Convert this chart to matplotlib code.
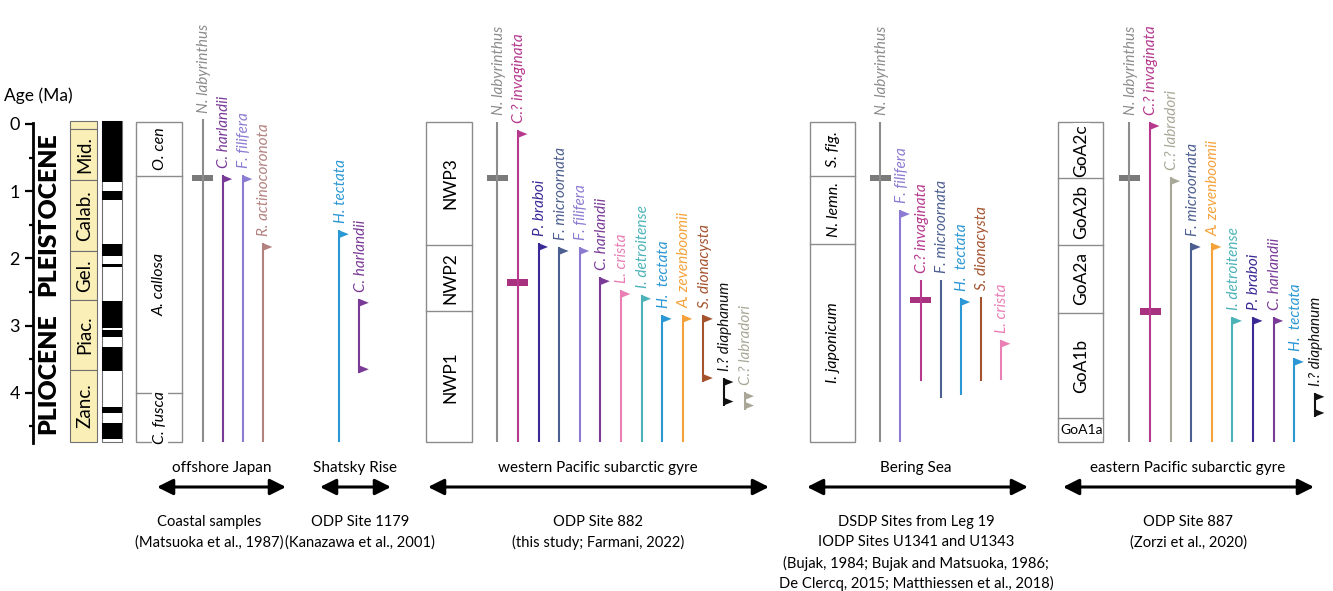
"""
Pliocene-Pleistocene dinocyst event comparison across North Pacific sites.
"""
import matplotlib
matplotlib.use("Agg")
import matplotlib.pyplot as plt
from matplotlib.patches import Rectangle, Polygon

W, H = 1333, 591
plt.rcParams["font.family"] = ["Lato", "DejaVu Sans"]

# ── Age scale (Ma) ─────────────────────────────────────────────
AGE_TICKS = [0, 1, 2, 3, 4]
AGE_MINOR = [0.5, 1.5, 2.5, 3.5, 4.5]
RECORD_BASE = 4.73

# ── Chronostratigraphy ─────────────────────────────────────────
STAGES = ["", "Mid.", "Calab.", "Gel.", "Piac.", "Zanc."]
STAGE_TOPS = [-0.05, 0.07, 0.84, 1.885, 2.62, 3.66]
EPOCHS = ["PLEISTOCENE", "PLIOCENE"]
EPOCH_MID = [1.34, 3.71]
# normal polarity intervals (top, base)
NORMAL_CHRONS = [(-0.05, 0.86), (1.0, 1.13), (1.79, 1.96), (2.08, 2.13),
                 (2.63, 3.03), (3.07, 3.17), (3.32, 3.67), (4.21, 4.30),
                 (4.45, 4.69)]

# ── offshore Japan ─────────────────────────────────────────────
JAPAN_ZONES = ["O. cen", "A. callosa", "C. fusca"]
JAPAN_ZONE_TOPS = [-0.03, 0.77, 4.0]
JAPAN_TAXA = ["N. labyrinthus", "C. harlandii", "F. filifera", "R. actinocoronota"]
JAPAN_TOP = [-0.07, 0.76, 0.76, 1.77]
JAPAN_BASE = [4.73, 4.73, 4.73, 4.73]
JAPAN_FLAGS = ["", "t", "t", "t"]
JAPAN_BARS = {"N. labyrinthus": 0.80}

# ── Shatsky Rise ───────────────────────────────────────────────
SHATSKY_TAXA = ["H. tectata", "C. harlandii"]
SHATSKY_TOP = [1.58, 2.60]
SHATSKY_BASE = [4.73, 3.71]
SHATSKY_FLAGS = ["t", "tb"]
SHATSKY_BARS = {}

# ── western Pacific subarctic gyre (ODP 882) ───────────────────
NWP_ZONES = ["NWP3", "NWP2", "NWP1"]
NWP_ZONE_TOPS = [-0.03, 1.80, 2.79]
NWP_TAXA = ["N. labyrinthus", "C.? invaginata", "P. braboi", "F. microornata",
            "F. filifera", "C. harlandii", "L. crista", "I. detroitense",
            "H.  tectata", "A. zevenboomii", "S. dionacysta", "I.? diaphanum",
            "C.? labradori"]
NWP_TOP = [-0.03, 0.09, 1.77, 1.83, 1.83, 2.28, 2.47, 2.54, 2.84, 2.84, 2.84, 3.78, 3.99]
NWP_BASE = [4.73, 4.73, 4.73, 4.73, 4.73, 4.73, 4.73, 4.73, 4.73, 4.73, 3.84, 4.19, 4.25]
NWP_FLAGS = ["", "t", "t", "t", "t", "t", "t", "t", "t", "t", "tb", "tb", "tb"]
NWP_BARS = {"N. labyrinthus": 0.80, "C.? invaginata": 2.36}

# ── Bering Sea ─────────────────────────────────────────────────
BERING_ZONES = ["S. fig.", "N. lemn.", "I. japonicum"]
BERING_ZONE_TOPS = [-0.03, 0.77, 1.78]
BERING_TAXA = ["N. labyrinthus", "F. filifera", "C.? invaginata", "F. microornata",
               "H.  tectata", "S. dionacysta", "L. crista"]
BERING_TOP = [-0.03, 1.28, 2.32, 2.32, 2.59, 2.57, 3.21]
BERING_BASE = [4.73, 4.73, 3.83, 4.08, 4.03, 3.83, 3.81]
BERING_FLAGS = ["", "t", "", "", "t", "", "t"]
BERING_BARS = {"N. labyrinthus": 0.80, "C.? invaginata": 2.62}

# ── eastern Pacific subarctic gyre (ODP 887) ───────────────────
GOA_ZONES = ["GoA2c", "GoA2b", "GoA2a", "GoA1b", "GoA1a"]
GOA_ZONE_TOPS = [-0.03, 0.81, 1.80, 2.81, 4.38]
GOA_TAXA = ["N. labyrinthus", "C.? invaginata", "C.? labradori", "F. microornata",
            "A. zevenboomii", "I. detroitense", "P. braboi", "C. harlandii",
            "H.  tectata", "I.? diaphanum"]
GOA_TOP = [-0.03, -0.03, 0.79, 1.77, 1.77, 2.87, 2.87, 2.87, 3.48, 4.0]
GOA_BASE = [4.73, 4.73, 4.73, 4.73, 4.73, 4.73, 4.73, 4.73, 4.73, 4.36]
GOA_FLAGS = ["", "t", "t", "t", "t", "t", "t", "t", "t", "tb"]
GOA_BARS = {"N. labyrinthus": 0.80, "C.? invaginata": 2.79}

# ── region captions ────────────────────────────────────────────
REGIONS = ["offshore Japan", "Shatsky Rise", "western Pacific subarctic gyre",
           "Bering Sea", "eastern Pacific subarctic gyre"]
SOURCES = [
    ["Coastal samples", "(Matsuoka et al., 1987)"],
    ["ODP Site 1179", "(Kanazawa et al., 2001)"],
    ["ODP Site 882", "(this study; Farmani, 2022)"],
    ["DSDP Sites from Leg 19", "IODP Sites U1341 and U1343",
     "(Bujak, 1984; Bujak and Matsuoka, 1986;", "De Clercq, 2015; Matthiessen et al., 2018)"],
    ["ODP Site 887", "(Zorzi et al., 2020)"],
]

# ── styles ─────────────────────────────────────────────────────
COLORS = {
    "N. labyrinthus": "#8c8c8c",
    "C. harlandii": "#7a3b98",
    "F. filifera": "#8c7bd1",
    "R. actinocoronota": "#b3827f",
    "H. tectata": "#2b97d4",
    "C.? invaginata": "#b6398e",
    "P. braboi": "#3a2a96",
    "F. microornata": "#4d5f91",
    "L. crista": "#e97fb5",
    "I. detroitense": "#4bb3b8",
    "A. zevenboomii": "#f5a23a",
    "S. dionacysta": "#a5532f",
    "I.? diaphanum": "#111111",
    "C.? labradori": "#a9a898",
}
BAR_COLORS = {"N. labyrinthus": "#7a7a7a", "C.? invaginata": "#a8327f"}
BOX_EDGE = "#8c8c8c"
FLAG_W, FLAG_H = 9.5, 0.12     # px, Ma
BAR_W, BAR_H = 21, 0.095
LABEL_GAP = 0.1

fig = plt.figure(figsize=(W / 100, H / 100), dpi=100)
ax = fig.add_axes([0, 0, 1, 1])
ax.set_xlim(0, W)
ax.set_ylim((H - 124) / 67.2, -124 / 67.2)
ax.patch.set_visible(False)
for s in ["top", "right", "bottom"]:
    ax.spines[s].set_visible(False)
ax.set_xticks([])
ax.spines["left"].set_position(("data", 33))
ax.spines["left"].set_linewidth(2)
ax.spines["left"].set_bounds(-0.02, 4.75)
ax.set_yticks(AGE_TICKS)
ax.set_yticks(AGE_MINOR, minor=True)
ax.tick_params(axis="y", which="major", length=6, width=1.6, pad=3.5, labelsize=13)
ax.tick_params(axis="y", which="minor", length=3, width=1.6)


def fpx(x, y):
    return x / W, 1 - y / H


fig.text(*fpx(4, 96), "Age (Ma)", ha="left", va="center", fontsize=12.5)

# epochs
for name, mid in zip(EPOCHS, EPOCH_MID):
    ax.text(48, mid, name, rotation=90, ha="center", va="center",
            fontsize=17.8, fontweight="heavy")

# stages
stage_bounds = STAGE_TOPS + [RECORD_BASE]
for i, name in enumerate(STAGES):
    ax.add_patch(Rectangle((70, stage_bounds[i]), 27, stage_bounds[i + 1] - stage_bounds[i],
                           facecolor="#fbefb8", edgecolor="#707070", lw=0.8))
    if name:
        ax.text(84.5, (stage_bounds[i] + stage_bounds[i + 1]) / 2, name, rotation=90,
                ha="center", va="center", fontsize=13.5)

# polarity
ax.add_patch(Rectangle((102, -0.05), 20, RECORD_BASE + 0.05, facecolor="white",
                       edgecolor="#707070", lw=0.8))
for top, base in NORMAL_CHRONS:
    ax.add_patch(Rectangle((102, top), 20, base - top, facecolor="black", edgecolor="none"))


def draw_zones(x0, width, zones, tops, italic, horizontal_last=False):
    bounds = tops + [RECORD_BASE]
    ax.add_patch(Rectangle((x0, bounds[0]), width, bounds[-1] - bounds[0],
                           facecolor="white", edgecolor=BOX_EDGE, lw=1))
    for b in bounds[1:-1]:
        ax.plot([x0, x0 + width], [b, b], color=BOX_EDGE, lw=1)
    for i, name in enumerate(zones):
        rot = 0 if (horizontal_last and i == len(zones) - 1) else 90
        if rot == 0:
            size = 10
        else:
            size = 11.5 if italic else 12.5
        ax.text(x0 + width / 2 + 1, (bounds[i] + bounds[i + 1]) / 2, name, rotation=rot,
                ha="center", va="center", fontsize=size,
                style="italic" if italic else "normal",
                bbox=dict(facecolor="white", edgecolor="none", pad=0.5))


def draw_taxa(x0, step, taxa, tops, bases, flags, bars):
    for i, name in enumerate(taxa):
        x = x0 + i * step
        c = COLORS[name.replace("  ", " ")]
        t, b = tops[i], bases[i]
        ax.plot([x, x], [t, b], color=c, lw=1.5, solid_capstyle="butt")
        if "t" in flags[i]:
            ax.add_patch(Polygon([(x - 0.5, t), (x - 0.5, t + FLAG_H), (x + FLAG_W, t + FLAG_H / 2)],
                                 closed=True, facecolor=c, edgecolor="none"))
        if "b" in flags[i]:
            ax.add_patch(Polygon([(x - 0.5, b - FLAG_H), (x - 0.5, b), (x + FLAG_W, b - FLAG_H / 2)],
                                 closed=True, facecolor=c, edgecolor="none"))
        if name in bars:
            ax.add_patch(Rectangle((x - BAR_W / 2, bars[name] - BAR_H / 2), BAR_W, BAR_H,
                                   facecolor=BAR_COLORS[name], edgecolor="none"))
        ax.text(x + 1.5, t - LABEL_GAP, name, rotation=90, ha="center", va="bottom",
                style="italic", color=c, fontsize=11)


draw_zones(136, 46, JAPAN_ZONES, JAPAN_ZONE_TOPS, italic=True)
draw_zones(426, 46, NWP_ZONES, NWP_ZONE_TOPS, italic=False)
draw_zones(810, 45, BERING_ZONES, BERING_ZONE_TOPS, italic=True)
draw_zones(1058, 45, GOA_ZONES, GOA_ZONE_TOPS, italic=False, horizontal_last=True)

draw_taxa(202.6, 20.1, JAPAN_TAXA, JAPAN_TOP, JAPAN_BASE, JAPAN_FLAGS, JAPAN_BARS)
draw_taxa(339.3, 20.0, SHATSKY_TAXA, SHATSKY_TOP, SHATSKY_BASE, SHATSKY_FLAGS, SHATSKY_BARS)
draw_taxa(497.3, 20.6, NWP_TAXA, NWP_TOP, NWP_BASE, NWP_FLAGS, NWP_BARS)
draw_taxa(880.3, 20.1, BERING_TAXA, BERING_TOP, BERING_BASE, BERING_FLAGS, BERING_BARS)
draw_taxa(1129.4, 20.6, GOA_TAXA, GOA_TOP, GOA_BASE, GOA_FLAGS, GOA_BARS)

# region arrows and captions
arrow_spans = [(157, 286), (320, 391), (428, 769), (807, 1028), (1063, 1314)]
caption_x = [222, 355, 598, 916, 1188]
source_x = [209, 360, 598, 916, 1188]
for name, (x1, x2), cx in zip(REGIONS, arrow_spans, caption_x):
    fig.text(*fpx(cx, 468), name, ha="center", va="center", fontsize=11)
    ax.annotate("", xy=(x2, H - 487), xytext=(x1, H - 487), xycoords="figure pixels",
                textcoords="figure pixels",
                arrowprops=dict(arrowstyle="<|-|>,head_length=0.6,head_width=0.3",
                                color="black", lw=2.2, mutation_scale=16,
                                shrinkA=0, shrinkB=0))
for lines, sx in zip(SOURCES, source_x):
    for j, line in enumerate(lines):
        fig.text(*fpx(sx, 522 + j * 20.5), line, ha="center", va="center", fontsize=10.6)

fig.savefig("out.png", dpi=100)
